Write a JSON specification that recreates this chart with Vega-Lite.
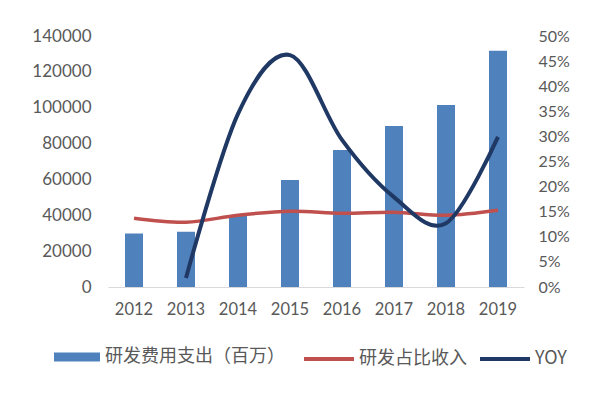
{
  "$schema": "https://vega.github.io/schema/vega-lite/v6.json",
  "width": 416,
  "height": 251,
  "autosize": {"type": "none"},
  "padding": {"left": 108, "top": 36, "right": 81, "bottom": 111},
  "background": "white",
  "data": {
    "values": [
      {"year": "2012", "spend": 29900, "ratio": 0.137, "yoy": null},
      {"year": "2013", "spend": 30800, "ratio": 0.129, "yoy": 0.018},
      {"year": "2014", "spend": 40200, "ratio": 0.143, "yoy": 0.345},
      {"year": "2015", "spend": 59700, "ratio": 0.151, "yoy": 0.462},
      {"year": "2016", "spend": 76400, "ratio": 0.147, "yoy": 0.293},
      {"year": "2017", "spend": 89800, "ratio": 0.149, "yoy": 0.179},
      {"year": "2018", "spend": 101500, "ratio": 0.143, "yoy": 0.127},
      {"year": "2019", "spend": 131800, "ratio": 0.153, "yoy": 0.299}
    ]
  },
  "encoding": {
    "x": {
      "field": "year",
      "type": "ordinal",
      "scale": {"paddingInner": 0.654, "paddingOuter": 0.327},
      "axis": {
        "title": null,
        "labelAngle": 0,
        "ticks": false,
        "domainColor": "#d9d9d9",
        "domainWidth": 1.2,
        "labelFontSize": 16.5,
        "labelColor": "#595959",
        "labelFont": "Lato",
        "labelPadding": 14
      }
    }
  },
  "layer": [
    {
      "mark": {"type": "bar", "color": "#4F81BD"},
      "encoding": {
        "y": {
          "field": "spend",
          "type": "quantitative",
          "scale": {"domain": [0, 140000], "nice": false},
          "axis": {
            "title": null,
            "orient": "left",
            "values": [0, 20000, 40000, 60000, 80000, 100000, 120000, 140000],
            "format": "d",
            "domain": false,
            "ticks": false,
            "grid": false,
            "labelFontSize": 17,
            "labelColor": "#595959",
            "labelFont": "Lato",
            "labelPadding": 17
          }
        },
        "color": {
          "datum": "研发费用支出（百万）",
          "scale": {"range": ["#4F81BD"]},
          "legend": {
            "title": null,
            "orient": "none",
            "legendX": -54,
            "legendY": 298,
            "symbolType": "M-1,-0.2H1V0.2H-1Z",
            "symbolSize": 2116,
            "symbolStrokeWidth": 0,
            "symbolOpacity": 1,
            "labelFontSize": 18,
            "labelFont": "Noto Sans CJK SC",
            "labelColor": "#595959",
            "labelOffset": 5,
            "labelLimit": 400
          }
        }
      }
    },
    {
      "layer": [
        {
          "mark": {"type": "line", "interpolate": "cardinal", "strokeWidth": 3.5},
          "encoding": {
            "y": {
              "field": "ratio",
              "type": "quantitative",
              "scale": {"domain": [0, 0.5], "nice": false},
              "axis": {
                "title": null,
                "orient": "right",
                "values": [0, 0.05, 0.1, 0.15, 0.2, 0.25, 0.3, 0.35, 0.4, 0.45, 0.5],
                "format": ".0%",
                "domain": false,
                "ticks": false,
                "grid": false,
                "labelFontSize": 16,
                "labelColor": "#595959",
                "labelFont": "Lato",
                "labelPadding": 14
              }
            },
            "stroke": {"datum": "研发占比收入"}
          }
        },
        {
          "mark": {"type": "line", "interpolate": "cardinal", "strokeWidth": 4},
          "encoding": {
            "y": {
              "field": "yoy",
              "type": "quantitative",
              "scale": {"domain": [0, 0.5], "nice": false},
              "axis": {
                "title": null,
                "orient": "right",
                "values": [0, 0.05, 0.1, 0.15, 0.2, 0.25, 0.3, 0.35, 0.4, 0.45, 0.5],
                "format": ".0%",
                "domain": false,
                "ticks": false,
                "grid": false,
                "labelFontSize": 16,
                "labelColor": "#595959",
                "labelFont": "Lato",
                "labelPadding": 14
              }
            },
            "stroke": {
              "datum": "YOY",
              "scale": {"domain": ["研发占比收入", "YOY"], "range": ["#C0504D", "#1F3864"]},
              "legend": {
                "title": null,
                "orient": "none",
                "direction": "horizontal",
                "legendX": 194,
                "legendY": 296,
                "symbolType": "stroke",
                "symbolSize": 2500,
                "symbolStrokeWidth": 4,
                "labelFontSize": 18,
                "labelFont": "Noto Sans CJK SC",
                "labelColor": "#595959",
                "labelOffset": 3,
                "columnPadding": 5,
                "labelLimit": 400
              }
            }
          }
        }
      ]
    }
  ],
  "resolve": {"scale": {"y": "independent"}},
  "config": {"view": {"stroke": null}}
}
